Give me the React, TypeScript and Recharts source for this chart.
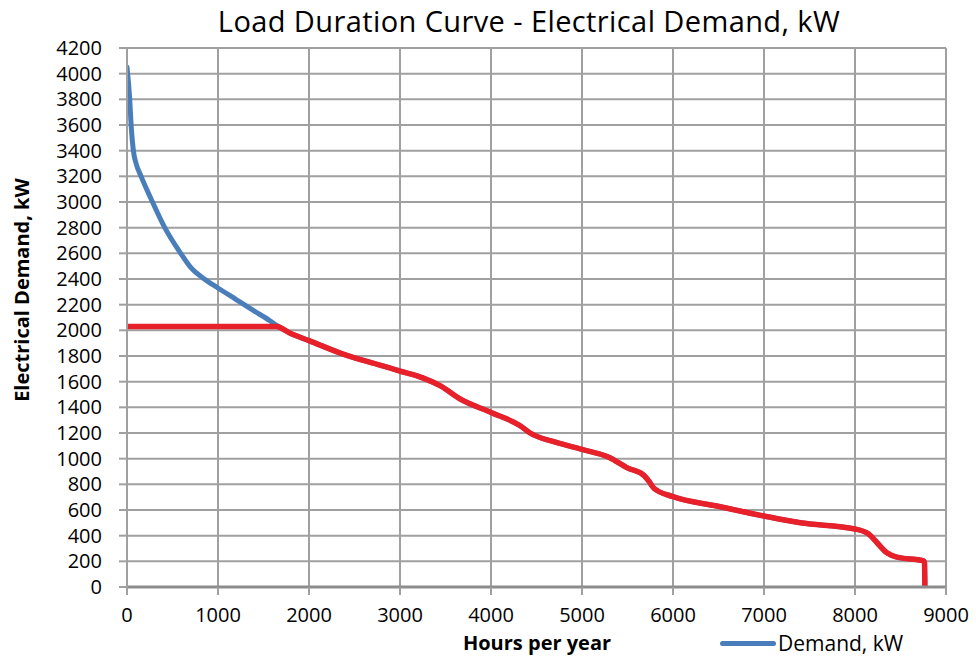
import { LineChart, Line, XAxis, YAxis, CartesianGrid } from 'recharts';

// hours of the year (sorted by demand, highest first)
const hours = [
  0, 30, 45, 70, 100, 155, 280, 415, 590, 700, 850, 1000, 1200, 1400, 1570, 1640, 1800,
  2000, 2375, 2750, 3000, 3250, 3450, 3660, 4000, 4320, 4430, 4700, 5000, 5300,
  5500, 5680, 5735, 5790, 6000, 6480, 7000, 7400, 8000, 8150, 8240, 8350, 8460,
  8750, 8764, 8768,
];

// electrical demand, kW
const demand = [
  4050, 3800, 3600, 3400, 3300, 3200, 3000, 2800, 2600, 2490, 2400, 2330, 2240, 2150, 2075, 2040, 1975,
  1920, 1815, 1735, 1683, 1630, 1565, 1465, 1360, 1257, 1200, 1130, 1072, 1010,
  928, 870, 825, 770, 704, 631, 553, 500, 452, 413, 347, 267, 233,
  205, 190, 0,
];

// demand limit, kW
const cap = 2030;

const xTicks = [0, 1000, 2000, 3000, 4000, 5000, 6000, 7000, 8000, 9000];
const yTicks = [
  0, 200, 400, 600, 800, 1000, 1200, 1400, 1600, 1800, 2000, 2200, 2400, 2600,
  2800, 3000, 3200, 3400, 3600, 3800, 4000, 4200,
];

const demandData = hours.map((h, i) => ({ h, v: demand[i] }));
const cappedData = hours.map((h, i) => ({ h, v: Math.min(demand[i], cap) }));

const font = '"Open Sans", sans-serif';
const gridColor = '#a0a0a0';

export default function App() {
  return (
    <div style={{ position: 'absolute', left: 0, top: 0, width: 976, height: 656, background: '#fff', fontFamily: font }}>
      <div
        style={{
          position: 'absolute',
          top: 1,
          left: 0,
          width: 1058,
          textAlign: 'center',
          fontSize: 29,
          letterSpacing: 0.4,
          color: '#000',
          whiteSpace: 'nowrap',
        }}
      >
        Load Duration Curve - Electrical Demand, kW
      </div>

      <LineChart
        width={976}
        height={656}
        margin={{ top: 48, right: 30, bottom: 0, left: 0 }}
        style={{ position: 'absolute', left: 0, top: 0 }}
      >
        <CartesianGrid stroke={gridColor} strokeWidth={2} />
        <XAxis
          type="number"
          dataKey="h"
          domain={[0, 9000]}
          ticks={xTicks}
          height={69}
          allowDataOverflow
          tick={{ fill: '#000', fontSize: 20, fontFamily: font }}
          tickSize={8}
          tickMargin={13}
          axisLine={{ stroke: '#8c8c8c', strokeWidth: 3 }}
          tickLine={{ stroke: gridColor, strokeWidth: 2 }}
          interval={0}
        />
        <YAxis
          type="number"
          dataKey="v"
          domain={[0, 4200]}
          ticks={yTicks}
          width={127}
          allowDataOverflow
          tick={{ fill: '#000', fontSize: 20, fontFamily: font }}
          tickSize={8}
          tickMargin={17}
          axisLine={{ stroke: gridColor, strokeWidth: 2 }}
          tickLine={{ stroke: gridColor, strokeWidth: 2 }}
          interval={0}
        />
        <Line
          data={demandData}
          dataKey="v"
          type="monotone"
          stroke="#4a7ebb"
          strokeWidth={5}
          strokeLinecap="round"
          strokeLinejoin="round"
          dot={false}
          activeDot={false}
          isAnimationActive={false}
        />
        <Line
          data={cappedData}
          dataKey="v"
          type="monotone"
          stroke="#e8202a"
          strokeWidth={5.5}
          strokeLinecap="round"
          strokeLinejoin="round"
          dot={false}
          activeDot={false}
          isAnimationActive={false}
        />
      </LineChart>

      <div
        style={{
          position: 'absolute',
          left: 22,
          top: 290,
          transform: 'translate(-50%, -50%) rotate(-90deg)',
          fontSize: 20,
          lineHeight: '22px',
          fontWeight: 700,
          whiteSpace: 'nowrap',
          color: '#000',
        }}
      >
        Electrical Demand, kW
      </div>

      <div
        style={{
          position: 'absolute',
          left: 537,
          top: 643,
          transform: 'translate(-50%, -50%)',
          fontSize: 20,
          lineHeight: '20px',
          fontWeight: 700,
          whiteSpace: 'nowrap',
          color: '#000',
        }}
      >
        Hours per year
      </div>

      <div style={{ position: 'absolute', left: 720, top: 632, height: 22, display: 'flex', alignItems: 'center', whiteSpace: 'nowrap' }}>
        <span style={{ display: 'inline-block', width: 56, height: 5, borderRadius: 3, background: '#4a7ebb' }} />
        <span style={{ fontSize: 21, marginLeft: 2, color: '#000', lineHeight: '22px' }}>Demand, kW</span>
      </div>
    </div>
  );
}
